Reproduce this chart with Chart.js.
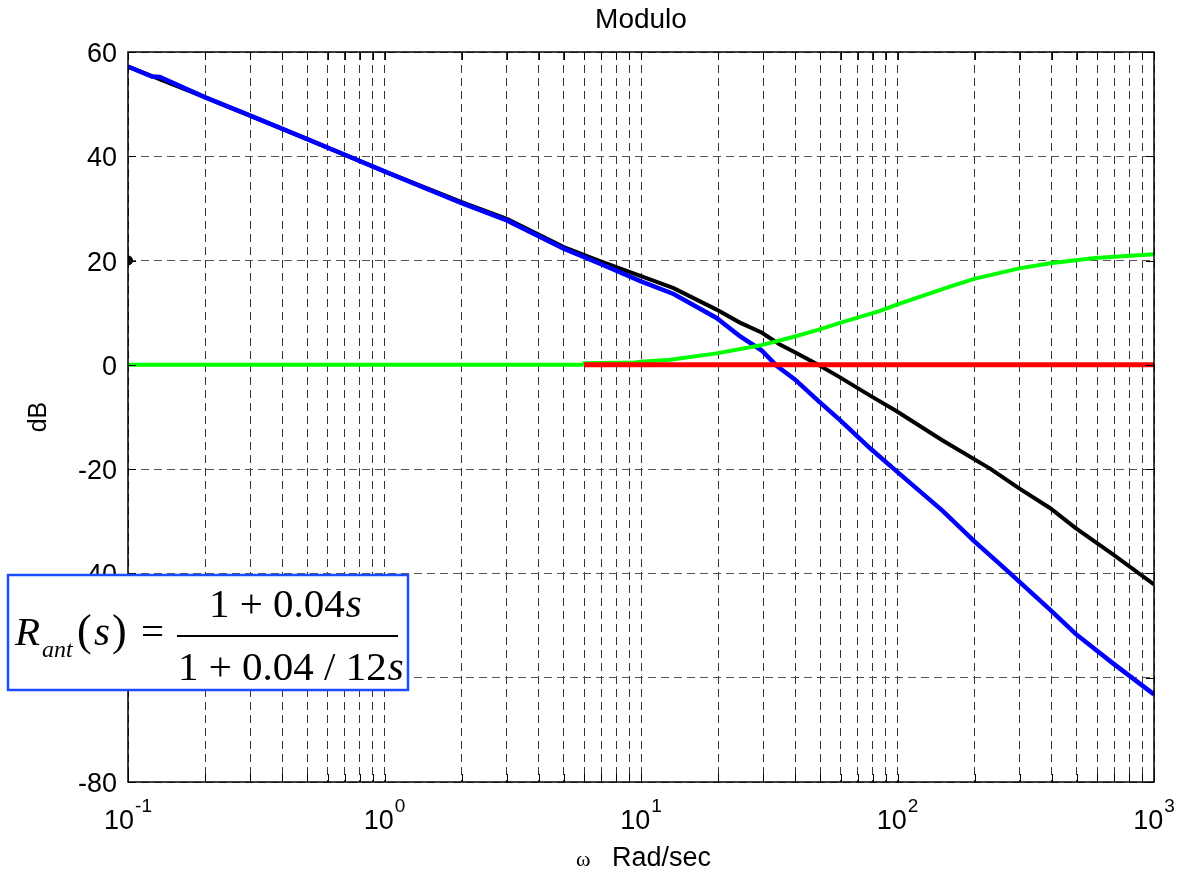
<!DOCTYPE html>
<html>
<head>
<meta charset="utf-8">
<title>Modulo</title>
<script src="https://cdn.jsdelivr.net/npm/chart.js@4/dist/chart.umd.min.js"></script>
<style>
html, body { margin: 0; padding: 0; background: #fff; }
#wrap { width: 1185px; height: 876px; position: relative; }
</style>
</head>
<body>
<div id="wrap"><canvas id="chart" width="1185" height="876"></canvas></div>
<script>
// frequencies (rad/s) and magnitudes (dB)
let plantW  = [0.1, 0.124, 0.133, 0.2, 0.3, 0.5, 0.7, 1, 2, 3, 5, 7, 10, 13.4, 19.7, 24.3, 29.5, 33.8, 39.8, 49.1, 59.7, 78.2, 97, 150, 199, 275, 394, 495, 694, 1000]
let plantDb = [57.2, 55.3, 55.2, 51.3, 47.8, 43.3, 40.3, 37.1, 31.0, 27.7, 22.3, 19.3, 16.0, 13.6, 9.0, 5.5, 2.8, -0.2, -2.8, -6.9, -10.6, -16.0, -20.0, -28.0, -33.8, -40.0, -47.0, -51.6, -57.3, -63.2]

let loopW  = [0.1, 0.2, 0.5, 1, 2, 3, 5, 7, 10, 13.4, 19.7, 24.3, 29.5, 34.8, 39.8, 49.1, 59.7, 78.2, 98.6, 150, 229.6, 298, 394, 495, 694, 1000]
let loopDb = [57.2, 51.3, 43.3, 37.1, 31.2, 28.0, 22.6, 19.8, 17.0, 14.7, 10.6, 8.1, 6.2, 3.9, 2.4, 0.0, -2.4, -5.9, -8.8, -14.5, -19.9, -23.7, -27.5, -31.3, -36.4, -42.1]

let compW  = [0.1, 5.9, 6.0, 9.5, 10, 13, 19.7, 29, 38.8, 49, 61, 85, 100, 160, 199, 298, 394, 589, 1000]
let compDb = [0, 0, 0.3, 0.45, 0.6, 1.0, 2.2, 3.7, 5.3, 6.7, 8.2, 10.3, 11.6, 15.0, 16.5, 18.5, 19.5, 20.5, 21.2]

let zeroW  = [6, 1000]
let zeroDb = [0, 0]

let markW  = [0.1]
let markDb = [20]

let decades = [-1, 0, 1, 2, 3]
let yTicks = [-80, -60, -40, -20, 0, 20, 40, 60]

function pts(w, db) {
    return w.map((v, i) => ({x: v, y: db[i]}))
}

// 1..9 x 10^n for the log grid
let gridVals = []
for (let e = -1; e < 3; e++) {
    for (let k = 1; k < 10; k++) gridVals.push(k * Math.pow(10, e))
}
gridVals.push(1000)

const sans = '"Liberation Sans", Arial, sans-serif'
const serif = '"Liberation Serif", "Times New Roman", serif'

const matlabAxes = {
    id: 'matlabAxes',
    afterDatasetsDraw(chart) {
        const {ctx, chartArea: a, scales: {x, y}} = chart
        ctx.save()
        ctx.strokeStyle = '#000'
        ctx.lineWidth = 1
        ctx.beginPath()
        for (let v of gridVals) {
            let px = Math.round(x.getPixelForValue(v)) + 0.5
            ctx.moveTo(px, a.bottom); ctx.lineTo(px, a.bottom - 8)
            ctx.moveTo(px, a.top); ctx.lineTo(px, a.top + 8)
        }
        for (let v of yTicks) {
            let py = Math.round(y.getPixelForValue(v)) + 0.5
            ctx.moveTo(a.left, py); ctx.lineTo(a.left + 8, py)
            ctx.moveTo(a.right, py); ctx.lineTo(a.right - 8, py)
        }
        ctx.stroke()
        ctx.lineWidth = 1.5
        ctx.strokeRect(a.left, a.top, a.right - a.left, a.bottom - a.top)
        ctx.restore()
    },
    afterDraw(chart) {
        const {ctx, chartArea: a, scales: {x, y}} = chart
        ctx.save()
        ctx.fillStyle = '#000'

        // title
        ctx.font = '28px ' + sans
        ctx.textAlign = 'center'
        ctx.textBaseline = 'alphabetic'
        ctx.fillText('Modulo', (a.left + a.right) / 2, 28)

        // y tick labels
        ctx.font = '27px ' + sans
        ctx.textAlign = 'right'
        for (let v of yTicks) {
            ctx.fillText(String(v), a.left - 11, y.getPixelForValue(v) + 10)
        }

        // x decade labels 10^n
        ctx.textAlign = 'left'
        for (let e of decades) {
            let px = x.getPixelForValue(Math.pow(10, e))
            ctx.font = '27px ' + sans
            let w1 = ctx.measureText('10').width
            ctx.font = '19px ' + sans
            let w2 = ctx.measureText(String(e)).width
            let left = px - (w1 + w2 + 1) / 2
            ctx.font = '27px ' + sans
            ctx.fillText('10', left, a.bottom + 47)
            ctx.font = '19px ' + sans
            ctx.fillText(String(e), left + w1 + 1, a.bottom + 30)
        }

        // x label
        ctx.font = '27px ' + sans
        let lab = 'Rad/sec'
        let lw = ctx.measureText(lab).width
        ctx.fillText(lab, 711 - lw, 866)
        ctx.font = '22px ' + serif
        ctx.fillText('\u03c9', 711 - lw - 36, 866)

        // y label
        ctx.translate(46, (a.top + a.bottom) / 2)
        ctx.rotate(-Math.PI / 2)
        ctx.font = '25px ' + sans
        ctx.textAlign = 'center'
        ctx.fillText('dB', 0, 0)
        ctx.setTransform(1, 0, 0, 1, 0, 0)

        // formula box
        ctx.fillStyle = '#fff'
        ctx.fillRect(8, 575, 400, 115)
        ctx.strokeStyle = '#1d4cff'
        ctx.lineWidth = 2.5
        ctx.strokeRect(8, 575, 400, 115)
        ctx.fillStyle = '#000'
        ctx.textAlign = 'left'
        ctx.font = 'italic 41px ' + serif
        ctx.fillText('R', 15, 645)
        ctx.font = 'italic 24px ' + serif
        ctx.fillText('ant', 42, 657)
        ctx.font = '44px ' + serif
        ctx.fillText('(', 77, 645)
        ctx.font = 'italic 41px ' + serif
        ctx.fillText('s', 94, 645)
        ctx.font = '44px ' + serif
        ctx.fillText(')', 112, 645)
        ctx.font = '41px ' + serif
        ctx.fillText('=', 141, 645)
        ctx.fillRect(177, 635, 221, 2)
        ctx.font = '41px ' + serif
        let num = '1 + 0.04'
        ctx.fillText(num, 209, 617)
        let nw = ctx.measureText(num).width
        ctx.font = 'italic 41px ' + serif
        ctx.fillText('s', 209 + nw + 1, 617)
        ctx.font = '41px ' + serif
        let den = '1 + 0.04 / 12'
        ctx.fillText(den, 178, 680)
        let dw = ctx.measureText(den).width
        ctx.font = 'italic 41px ' + serif
        ctx.fillText('s', 178 + dw + 1, 680)
        ctx.restore()
    }
}

const ctx = document.getElementById('chart').getContext('2d')
const bode = new Chart(ctx, {
    type: 'line',
    data: {
        datasets: [
            {label: 'zero', data: pts(zeroW, zeroDb), borderColor: '#ff0000', borderWidth: 5, pointRadius: 0, order: 0},
            {label: 'Rant', data: pts(compW, compDb), borderColor: '#00ff00', borderWidth: 4, pointRadius: 0, order: 1},
            {label: 'G', data: pts(plantW, plantDb), borderColor: '#0000ff', borderWidth: 4.5, pointRadius: 0, order: 2},
            {label: 'Rant*G', data: pts(loopW, loopDb), borderColor: '#000000', borderWidth: 4, pointRadius: 0, order: 3},
            {label: 'mark', data: pts(markW, markDb), showLine: false, pointRadius: 5, pointBackgroundColor: '#000', pointBorderWidth: 0, order: 4}
        ]
    },
    options: {
        responsive: false,
        devicePixelRatio: 1,
        animation: false,
        events: [],
        layout: {padding: {left: 128, top: 52, right: 31, bottom: 94}},
        plugins: {legend: {display: false}, tooltip: {enabled: false}, title: {display: false}},
        scales: {
            x: {
                type: 'logarithmic',
                min: 0.1,
                max: 1000,
                afterBuildTicks: (s) => { s.ticks = gridVals.map(v => ({value: v})) },
                ticks: {display: false},
                grid: {color: '#333', lineWidth: 1, drawTicks: false},
                border: {display: false, dash: [8, 5]}
            },
            y: {
                type: 'linear',
                min: -80,
                max: 60,
                afterBuildTicks: (s) => { s.ticks = yTicks.map(v => ({value: v})) },
                ticks: {display: false},
                grid: {color: '#555', lineWidth: 1, drawTicks: false},
                border: {display: false, dash: [8, 5]}
            }
        }
    },
    plugins: [matlabAxes]
})
</script>
</body>
</html>
